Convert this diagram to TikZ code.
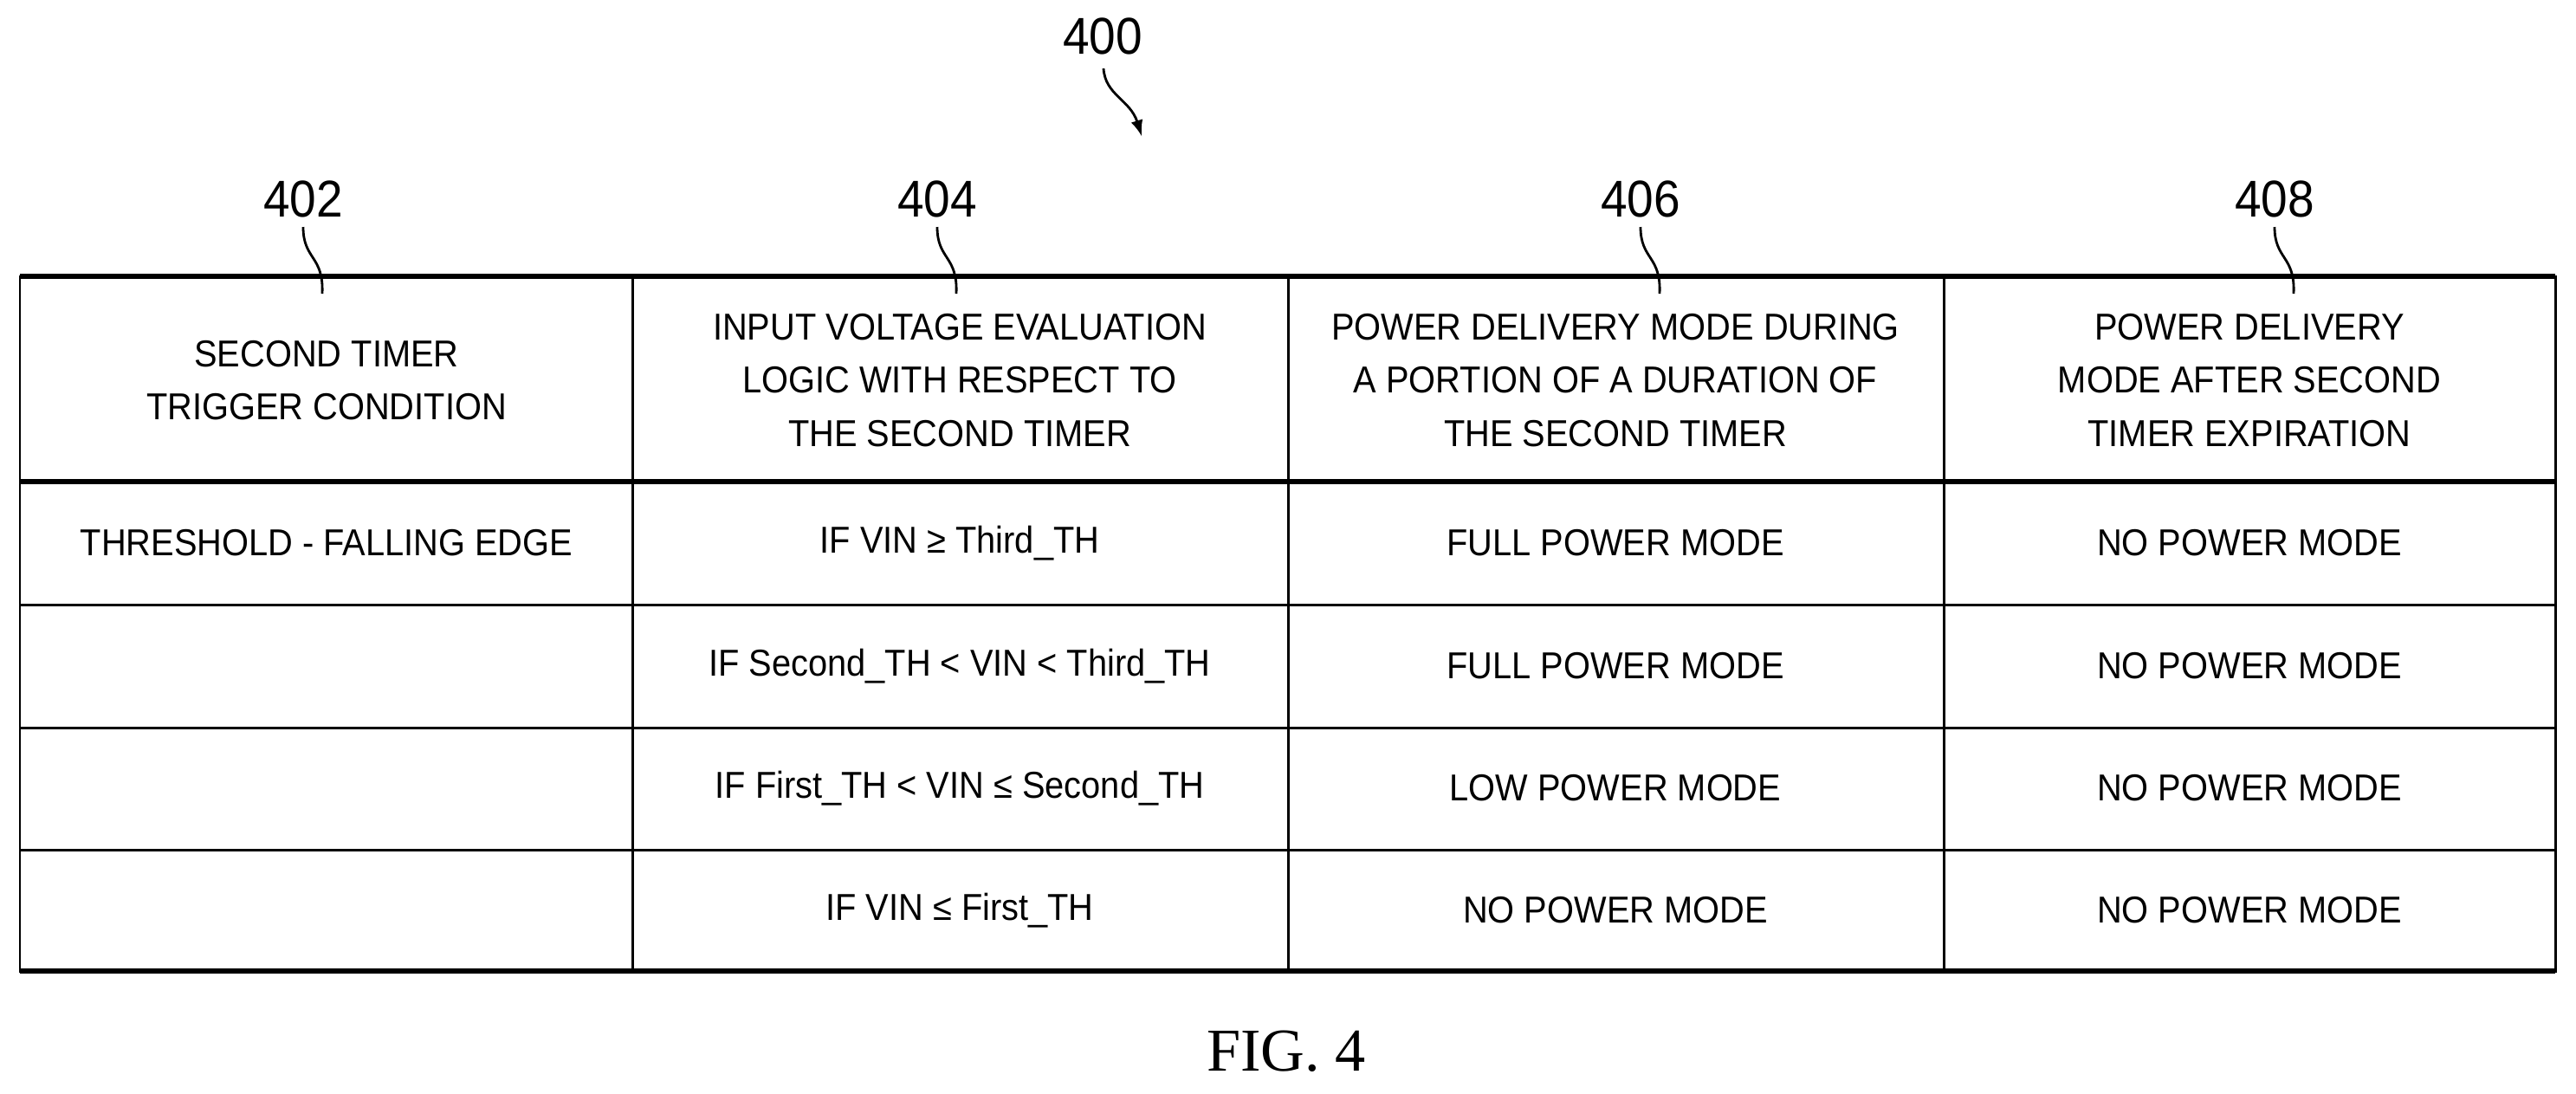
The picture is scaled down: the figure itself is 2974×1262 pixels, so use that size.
\documentclass[tikz,border=0pt]{standalone}
\usepackage{fontspec}
\setmainfont{Liberation Sans}[FakeStretch=0.92]
\newfontfamily\figfont{Liberation Serif}
\usetikzlibrary{positioning,calc}

\tikzset{
    cell/.style={align=center,inner sep=0pt,font=\fontsize{12.3}{17.4}\selectfont},
    refnum/.style={inner sep=0pt,font=\fontsize{17}{20}\selectfont},
    thinrule/.style={line width=0.85pt},
    thickrule/.style={line width=1.7pt},
    lead/.style={line width=0.8pt}
}

\begin{document}
\begin{tikzpicture}[x=0.01cm,y=-0.01cm]
            \useasboundingbox (0,0) rectangle (2974,1262);

            % table frame
            \coordinate (tbl) at (23, 319);
            \draw[thinrule] (23,319) rectangle (2950,1121);
            \draw[thickrule] (23,319) -- (2950,319);
            \draw[thickrule] (23,556) -- (2950,556);
            \draw[thickrule] (23,1121) -- (2950,1121);
            \foreach \y in {698,840,981}
                \draw[thinrule] (23,\y) -- (2950,\y);
            \foreach \x in {730,1487,2244}
                \draw[thinrule] (\x,319) -- (\x,1121);

            % header cells
            \node[cell] (h402) at (377,439) {SECOND TIMER\\TRIGGER CONDITION};
            \node[cell] (h404) at (1108,439) {INPUT VOLTAGE EVALUATION\\LOGIC WITH RESPECT TO\\THE SECOND TIMER};
            \node[cell] (h406) at (1865,439) {POWER DELIVERY MODE DURING\\A PORTION OF A DURATION OF\\THE SECOND TIMER};
            \node[cell] (h408) at (2597,439) {POWER DELIVERY\\MODE AFTER SECOND\\TIMER EXPIRATION};

            % body cells
            \node[cell] (trig) at (377,627) {THRESHOLD - FALLING EDGE};
            \foreach \y/\cond/\during [count=\r] in {
                    627/{IF VIN ≥ Third\_TH}/{FULL POWER MODE},
                    769/{IF Second\_TH < VIN < Third\_TH}/{FULL POWER MODE},
                    910/{IF First\_TH < VIN ≤ Second\_TH}/{LOW POWER MODE},
                    1051/{IF VIN ≤ First\_TH}/{NO POWER MODE}}
                {
                    \node[cell] (cond\r) at (1108,\y) {\cond};
                    \node[cell] (during\r) at (1865,\y) {\during};
                    \node[cell] (after\r) at (2597,\y) {NO POWER MODE};
                }

            % reference numerals
            \node[refnum] (n400) at (1273,42) {400};
            \coordinate (n400tip) at (1318,157);
            \draw[lead,-latex] (1274,79) .. controls (1276,110) and (1305,115) .. (n400tip);

            \foreach \n/\x in {402/350,404/1082,406/1894,408/2626}
                {
                    \node[refnum] (n\n) at (\x,230) {\n};
                    \coordinate (lead\n) at (\x+22,339);
                    \draw[lead] (\x,262) .. controls (\x,300) and (\x+24,295) .. (lead\n);
                }

            \node[font=\figfont\fontsize{20}{24}\selectfont] (fig) at (1485,1214) {FIG. 4};
\end{tikzpicture}
\end{document}
